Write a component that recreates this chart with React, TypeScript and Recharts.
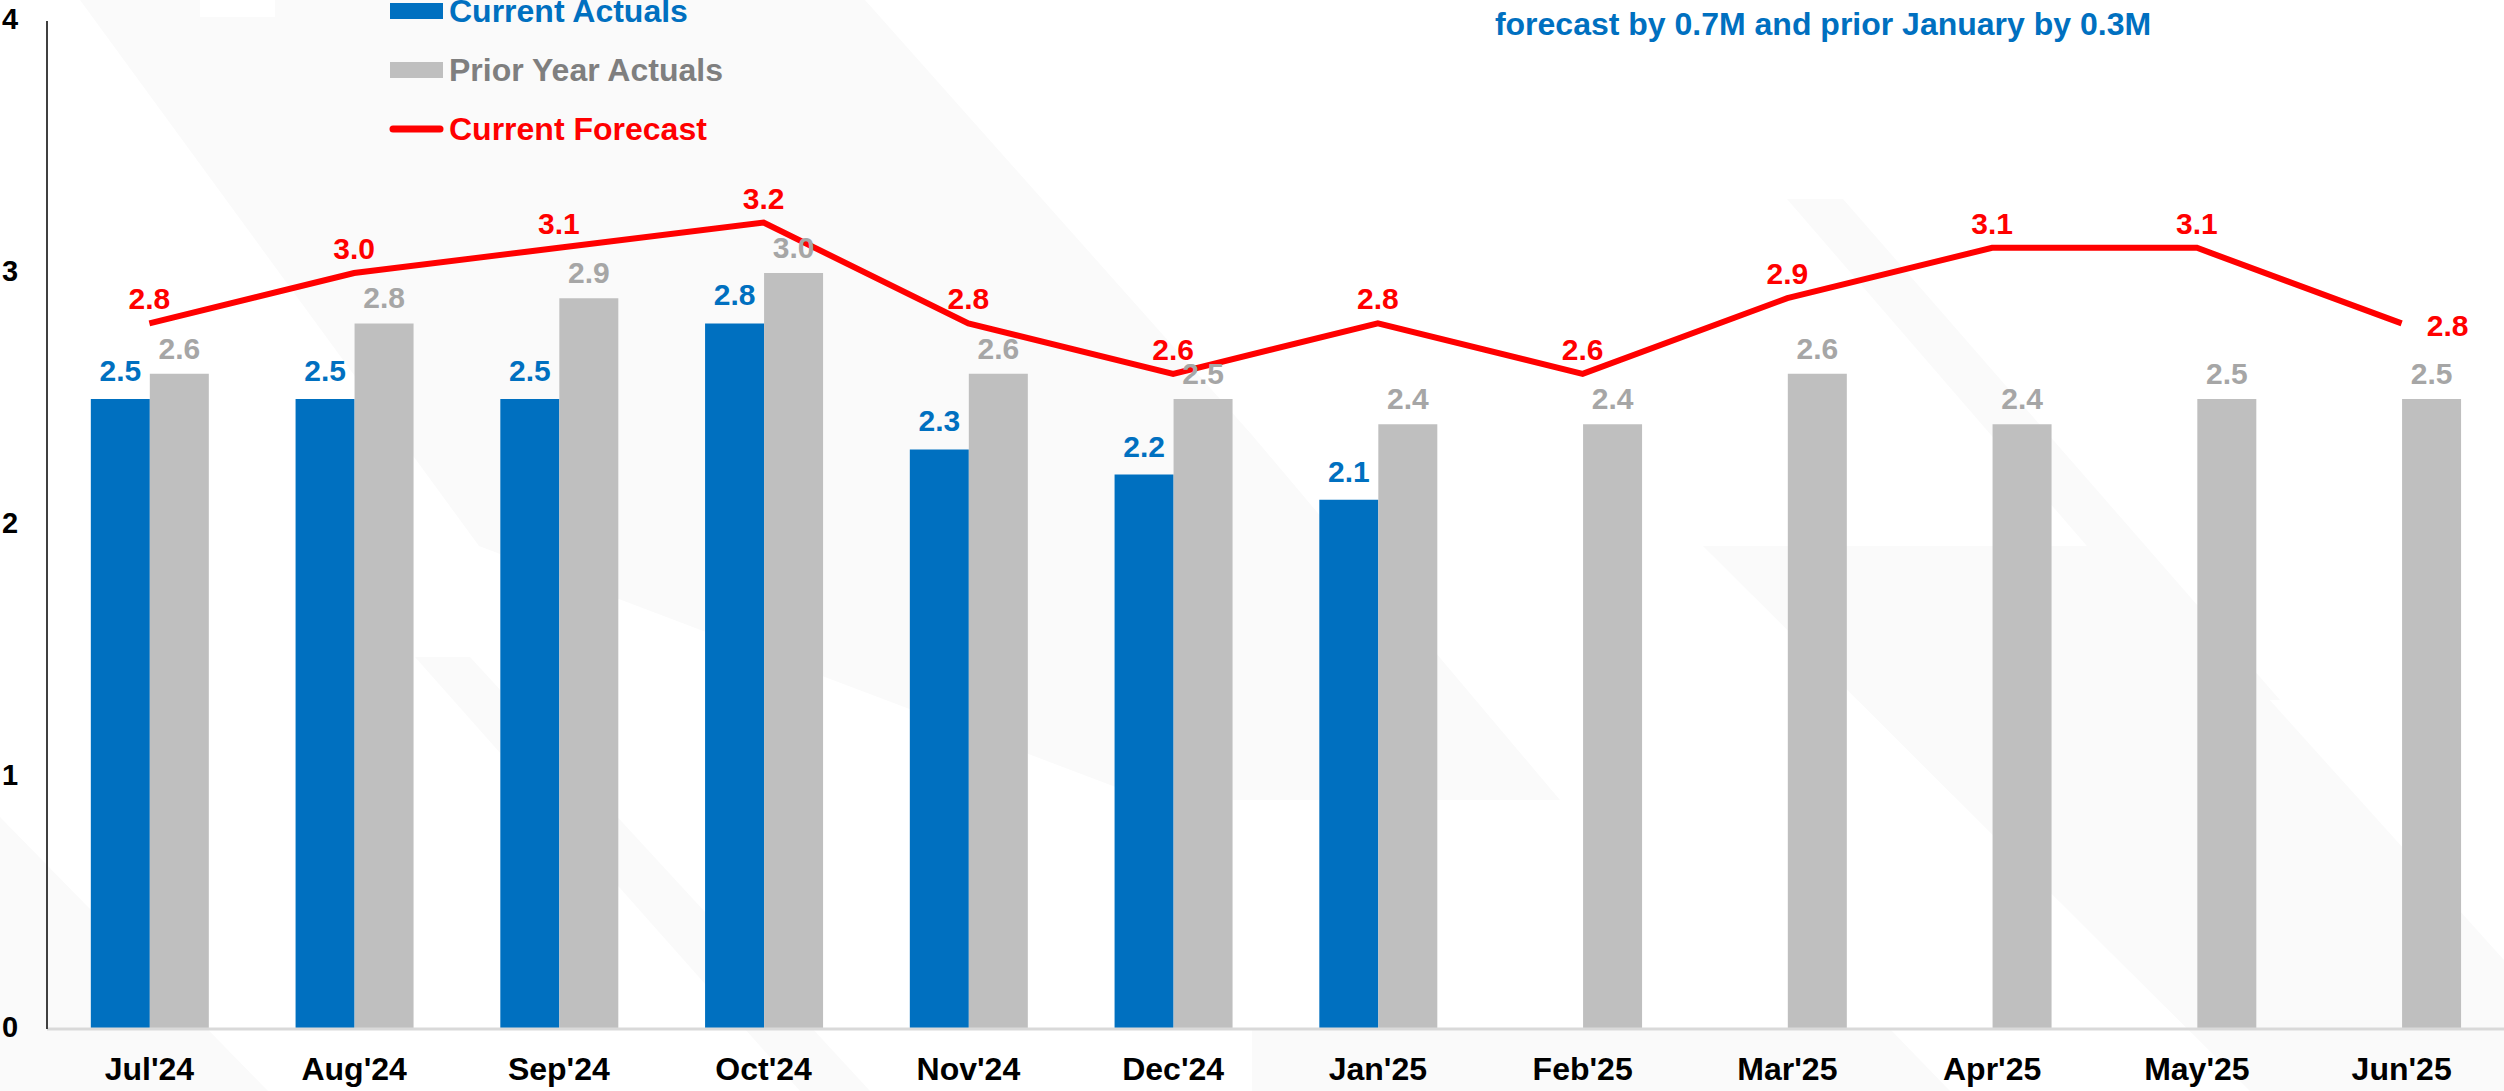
import { ComposedChart, Bar, Line, XAxis, YAxis, LabelList, Legend } from "recharts"

const months = ["Jul'24", "Aug'24", "Sep'24", "Oct'24", "Nov'24", "Dec'24", "Jan'25", "Feb'25", "Mar'25", "Apr'25", "May'25", "Jun'25"]
const currentActuals = [2.5, 2.5, 2.5, 2.8, 2.3, 2.2, 2.1, null, null, null, null, null]
const priorYearActuals = [2.6, 2.8, 2.9, 3.0, 2.6, 2.5, 2.4, 2.4, 2.6, 2.4, 2.5, 2.5]
const currentForecast = [2.8, 3.0, 3.1, 3.2, 2.8, 2.6, 2.8, 2.6, 2.9, 3.1, 3.1, 2.8]
const yTicks = [0, 1, 2, 3, 4]
const note = "forecast by 0.7M and prior January by 0.3M"

const BLUE = "#0070C0"
const GRAY = "#BFBFBF"
const RED = "#FF0000"
const WATERMARK = "#FAFAFA"
const FONT = "'Liberation Sans', Arial, sans-serif"

const data = months.map((month, i) => ({
  month,
  current: currentActuals[i],
  prior: priorYearActuals[i],
  forecast: currentForecast[i],
}))

const fmt = (v: any) => (v == null ? "" : Number(v).toFixed(1))

// Excel put the last forecast label to the right of the point
const renderForecastLabel = (props: any) => {
  const { x, y, value, index } = props
  const last = index === months.length - 1
  return (
    <text
      x={last ? x + 46 : x}
      y={last ? y + 13 : y - 14}
      textAnchor="middle"
      fill={RED}
      fontSize={30}
      fontWeight={700}
    >
      {fmt(value)}
    </text>
  )
}

const YTick = (props: any) => {
  const { y, payload } = props
  return (
    <text x={2} y={y} dy={8} textAnchor="start" fill="#000" fontSize={29} fontWeight={700}>
      {payload.value}
    </text>
  )
}

const renderLegend = () => (
  <svg width={700} height={160} style={{ overflow: "visible" }}>
    <rect x={390} y={3} width={53} height={16} fill={BLUE} />
    <text x={449} y={22} fill={BLUE} fontSize={32} fontWeight={700}>Current Actuals</text>
    <rect x={390} y={62} width={53} height={16} fill={GRAY} />
    <text x={449} y={81} fill="#7F7F7F" fontSize={32} fontWeight={700}>Prior Year Actuals</text>
    <line x1={393} x2={440} y1={129} y2={129} stroke={RED} strokeWidth={7} strokeLinecap="round" />
    <text x={449} y={140} fill={RED} fontSize={32} fontWeight={700}>Current Forecast</text>
  </svg>
)

export default function App() {
  return (
    <div
      style={{
        position: "absolute",
        left: 0,
        top: 0,
        width: 2504,
        height: 1091,
        background: "#fff",
        overflow: "hidden",
        fontFamily: FONT,
      }}
    >
      {/* faint watermark stripes behind the chart */}
      <svg width={2504} height={1091} style={{ position: "absolute", left: 0, top: 0 }}>
        <polygon points="80,0 200,0 200,17 275,17 275,0 865,0 1252,435 1560,800 1150,800 479,546" fill={WATERMARK} />
        <polygon points="0,817 268,1091 0,1091" fill={WATERMARK} />
        <polygon points="415,657 470,657 870,1091 800,1091" fill={WATERMARK} />
        <polygon points="1787,199 1843,199 2280,700 2220,700" fill={WATERMARK} />
        <polygon points="1703,546 2131,546 2504,960 2504,1091 2250,1091 2107,949" fill={WATERMARK} />
        <polygon points="1252,1029 1890,1029 1950,1091 1252,1091" fill={WATERMARK} />
      </svg>

      <div style={{ position: "absolute", left: 0, top: 0 }}>
        <ComposedChart
          width={2504}
          height={1091}
          data={data}
          margin={{ top: 21, right: 0, left: 0, bottom: 0 }}
          barGap={0}
          barCategoryGap="21.4%"
        >
          <XAxis
            dataKey="month"
            height={62}
            axisLine={{ stroke: "#D9D9D9", strokeWidth: 3 }}
            tickLine={false}
            tickSize={6}
            tickMargin={22}
            interval={0}
            tick={{ fill: "#000", fontSize: 32, fontWeight: 700 }}
          />
          <YAxis
            width={47}
            domain={[0, 4]}
            ticks={yTicks}
            axisLine={{ stroke: "#404040", strokeWidth: 2 }}
            tickLine={false}
            tick={<YTick />}
          />
          <Legend
            layout="horizontal"
            verticalAlign="middle"
            align="center"
            content={renderLegend}
            wrapperStyle={{ left: 0, top: 0, width: 700, height: 160 }}
          />
          <Bar dataKey="current" name="Current Actuals" fill={BLUE} isAnimationActive={false}>
            <LabelList dataKey="current" position="top" offset={18} fill={BLUE} fontSize={30} fontWeight={700} formatter={fmt} />
          </Bar>
          <Bar dataKey="prior" name="Prior Year Actuals" fill={GRAY} isAnimationActive={false}>
            <LabelList dataKey="prior" position="top" offset={15} fill="#A6A6A6" fontSize={30} fontWeight={700} formatter={fmt} />
          </Bar>
          <Line
            dataKey="forecast"
            name="Current Forecast"
            stroke={RED}
            strokeWidth={6}
            dot={false}
            activeDot={false}
            label={renderForecastLabel}
            isAnimationActive={false}
          />
        </ComposedChart>
      </div>

      <div
        style={{
          position: "absolute",
          left: 1823,
          top: 8,
          transform: "translateX(-50%)",
          whiteSpace: "nowrap",
          color: BLUE,
          fontSize: 32,
          lineHeight: "32px",
          fontWeight: 700,
        }}
      >
        {note}
      </div>
    </div>
  )
}
